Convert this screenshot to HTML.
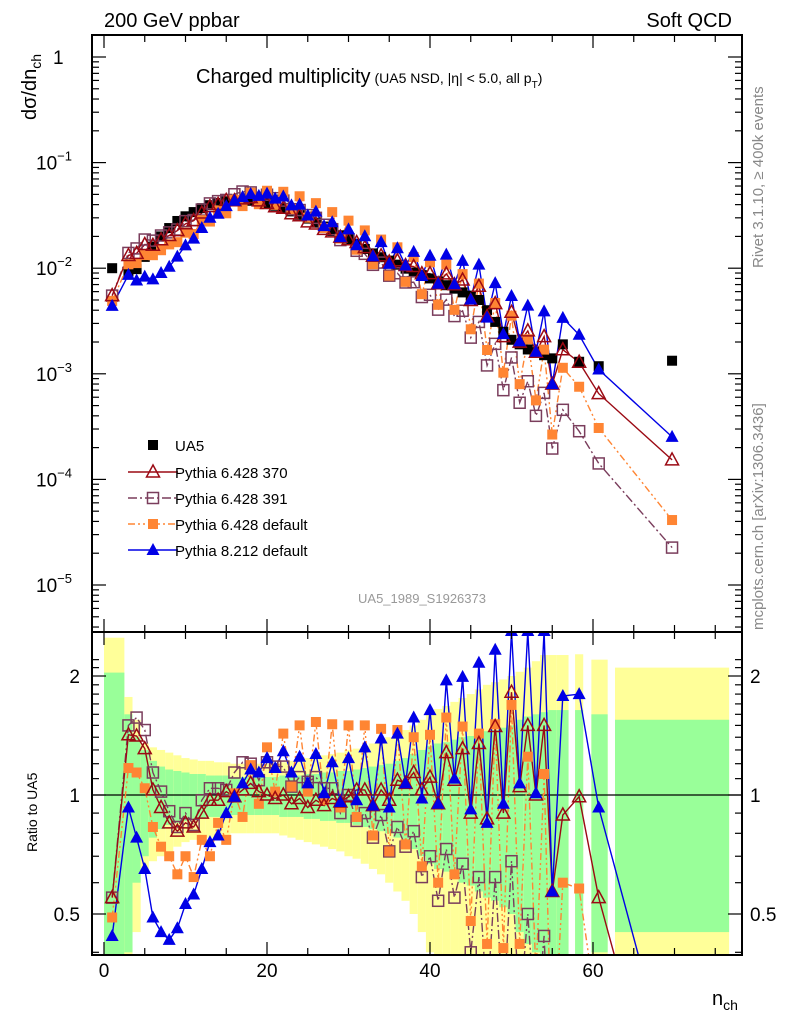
<!DOCTYPE html>
<html><head><meta charset="utf-8"><style>
html,body{margin:0;padding:0;background:#fff;width:786px;height:1024px;overflow:hidden}
svg{display:block;font-family:"Liberation Sans",sans-serif}
</style></head><body>
<svg id="chart" width="786" height="1024" viewBox="0 0 786 1024" xmlns="http://www.w3.org/2000/svg">
<defs>
<clipPath id="clipMain"><rect x="92" y="35" width="650" height="597"/></clipPath>
<clipPath id="clipRatio"><rect x="92" y="632" width="650" height="323"/></clipPath>
</defs>
<g id="bands" clip-path="url(#clipRatio)"></g>
<line x1="92" x2="742" y1="795" y2="795" stroke="#000" stroke-width="1.2"/>
<g id="mainMarks" clip-path="url(#clipMain)"></g>
<g id="ratioMarks" clip-path="url(#clipRatio)"></g>
<rect x="92" y="35" width="650" height="597" fill="none" stroke="#000" stroke-width="2"/>
<rect x="92" y="632" width="650" height="323" fill="none" stroke="#000" stroke-width="2"/>
<g id="ticks" stroke="#000" stroke-width="1.2"></g>
<g id="labels" font-size="19" fill="#000"></g>

<text x="104" y="27" font-size="20">200 GeV ppbar</text>
<text x="732" y="27" font-size="20" text-anchor="end">Soft QCD</text>
<text x="196" y="83" font-size="20">Charged multiplicity<tspan font-size="14" dx="4">(UA5 NSD, |η| &lt; 5.0, all p</tspan><tspan font-size="10" dy="5">T</tspan><tspan font-size="14" dy="-5">)</tspan></text>
<text transform="translate(36,120) rotate(-90)" font-size="20">dσ/dn<tspan font-size="14" dy="5">ch</tspan></text>
<text transform="translate(37,852) rotate(-90)" font-size="14">Ratio to UA5</text>
<text x="712" y="1005" font-size="20">n<tspan font-size="14" dy="5">ch</tspan></text>
<text transform="translate(763,268) rotate(-90)" font-size="15" fill="#888">Rivet 3.1.10, ≥ 400k events</text>
<text transform="translate(763,630) rotate(-90)" font-size="15" fill="#888">mcplots.cern.ch [arXiv:1306.3436]</text>
<text x="422" y="603" font-size="13" fill="#999" text-anchor="middle">UA5_1989_S1926373</text>

<g id="legend" font-size="15"></g>
</svg>
<script>
const ns = [1,3,4,5,6,7,8,9,10,11,12,13,14,15,16,17,18,19,20,21,22,23,24,25,26,27,28,29,30,31,32,33,34,35,36,37,38,39,40,41,42,43,44,45,46,47,48,49,50,51,52,53,54,55,56.3,58.3,60.7,69.7];
const ua5 = [0.0100,0.0093,0.0098,0.0128,0.0160,0.0200,0.0240,0.0280,0.0310,0.0340,0.0370,0.0395,0.0415,0.0430,0.0440,0.0440,0.0435,0.0425,0.0410,0.0390,0.0370,0.0345,0.0320,0.0295,0.0270,0.0248,0.0225,0.0205,0.0188,0.0170,0.0152,0.0138,0.0127,0.0118,0.0108,0.0099,0.0091,0.0086,0.0080,0.0075,0.0069,0.0064,0.0059,0.0055,0.0050,0.0040,0.0031,0.0025,0.0021,0.0019,0.0017,0.0016,0.0015,0.0014,0.0019,0.0013,0.00118,0.00133];
const ratio370 = [0.55,1.42,1.41,1.31,1.03,0.93,0.85,0.81,0.85,0.83,0.9,0.97,0.97,1.02,0.99,1.03,1.07,1.02,1.0,0.98,1.0,0.95,0.98,0.93,0.97,0.94,0.98,0.96,0.99,1.03,1.03,0.94,1.03,0.97,1.09,1.07,1.14,1.03,1.11,0.95,1.28,1.09,1.31,0.9,1.35,0.87,1.49,0.9,1.82,1.05,1.5,1.0,1.5,0.57,0.89,0.99,0.55,0.115];
const ratio391 = [0.55,1.5,1.57,1.46,1.14,1.02,0.91,0.83,0.9,0.84,0.97,1.04,1.04,1.03,1.14,1.21,1.2,1.09,1.21,1.18,1.18,1.05,1.11,1.08,1.11,1.04,1.04,0.9,1.0,0.86,0.9,0.78,0.89,0.72,0.83,0.74,0.81,0.62,0.70,0.54,0.73,0.55,0.67,0.4,0.62,0.3,0.62,0.28,0.68,0.28,0.5,0.25,0.44,0.14,0.24,0.22,0.12,0.017];
const ratioDef6 = [0.49,1.17,1.14,1.04,0.83,0.74,0.70,0.63,0.7,0.62,0.77,0.7,0.85,0.77,1.01,0.88,1.19,0.95,1.32,1.02,1.43,1.05,1.5,1.02,1.53,0.97,1.51,0.93,1.5,0.88,1.5,0.79,1.47,0.72,1.46,0.75,1.4,0.66,1.42,0.6,1.57,0.63,1.49,0.48,1.43,0.42,1.51,0.41,1.69,0.42,1.25,0.35,1.13,0.19,0.6,0.58,0.26,0.031];
const ratio8 = [0.44,0.93,0.78,0.65,0.49,0.45,0.43,0.46,0.53,0.56,0.65,0.76,0.79,0.9,0.99,1.07,1.16,1.14,1.24,1.17,1.29,1.14,1.25,1.07,1.27,1.01,1.21,0.96,1.24,0.97,1.32,0.94,1.39,0.93,1.43,1.07,1.57,0.98,1.64,0.95,1.95,1.1,1.99,0.92,2.16,0.85,2.33,0.95,2.6,1.07,2.6,1.01,2.6,0.57,1.78,1.8,0.93,0.19];
const statErr = [1.04,0.6,0.4,0.3,0.22,0.18,0.16,0.15,0.14,0.13,0.13,0.12,0.12,0.12,0.11,0.11,0.11,0.11,0.11,0.11,0.12,0.12,0.12,0.13,0.13,0.14,0.14,0.15,0.15,0.16,0.17,0.18,0.19,0.2,0.22,0.24,0.27,0.3,0.33,0.35,0.36,0.38,0.4,0.41,0.43,0.45,0.46,0.48,0.5,0.55,0.58,0.6,0.62,0.64,0.64,0.64,0.6,0.55];
const totErr = [1.5,0.77,0.55,0.35,0.32,0.3,0.28,0.26,0.24,0.23,0.22,0.22,0.21,0.21,0.2,0.2,0.2,0.2,0.2,0.2,0.21,0.22,0.23,0.24,0.25,0.26,0.27,0.28,0.3,0.31,0.33,0.35,0.37,0.4,0.43,0.46,0.5,0.55,0.6,0.65,0.68,0.72,0.76,0.8,0.85,0.9,0.93,0.96,1.0,1.05,1.1,1.18,1.26,1.26,1.26,1.27,1.2,1.1];
const specialBinLo = {1:0, 55:54.5, 56.3:55.5, 58.3:57.8, 60.7:59.8, 69.7:62.7};
const specialBinHi = {1:2.5, 55:55.5, 56.3:57.0, 58.3:58.8, 60.7:61.8, 69.7:76.7};
const xTickLabels = ["0","20","40","60"];
const mainDecades = [0,-1,-2,-3,-4,-5];
const ratioTickLabels = ["0.5","1","2"];

const SVGNS = "http://www.w3.org/2000/svg";
const X = n => 104 + 8.15*n;
const Ym = v => 57 - 105.6*Math.log10(v);
const Yr = r => 795 - 395.3*Math.log10(Math.max(r,1e-3));
const clampR = y => Math.max(632, Math.min(955, y));
function mk(tag, attrs, parent){ const e=document.createElementNS(SVGNS,tag); for(const k in attrs) e.setAttribute(k,attrs[k]); parent.appendChild(e); return e; }

// clip a polyline to y range; returns path d
function clipPath(pts, ylo, yhi){
  let d=''; let pen=false;
  for(let i=0;i<pts.length-1;i++){
    let [x0,y0]=pts[i], [x1,y1]=pts[i+1];
    let t0=0,t1=1; const dy=y1-y0;
    if(dy===0){ if(y0<ylo||y0>yhi){pen=false;continue;} }
    else{
      let ta=(ylo-y0)/dy, tb=(yhi-y0)/dy;
      if(ta>tb){const t=ta;ta=tb;tb=t;}
      t0=Math.max(0,ta); t1=Math.min(1,tb);
      if(t0>t1){pen=false;continue;}
    }
    const ax=x0+(x1-x0)*t0, ay=y0+dy*t0, bx=x0+(x1-x0)*t1, by=y0+dy*t1;
    if(!pen || t0>0){ d+=`M${ax.toFixed(1)},${ay.toFixed(1)}`; }
    d+=`L${bx.toFixed(1)},${by.toFixed(1)}`;
    pen = t1>=1;
  }
  return d;
}

const gB = document.getElementById('bands');
ns.forEach((n,i)=>{
  const lo = (n in specialBinLo)? specialBinLo[n] : n-0.5;
  const hi = (n in specialBinHi)? specialBinHi[n] : n+0.5;
  const x0=X(lo), x1=X(hi);
  const yTop = clampR(Yr(1+totErr[i])), yBot = clampR(Yr(Math.max(1-totErr[i],0.01)));
  const y = mk('rect',{x:x0,y:yTop,width:x1-x0,height:yBot-yTop,fill:'#ffff99'},gB);
  
  
  const gTop = clampR(Yr(1+statErr[i])), gBot = clampR(Yr(Math.max(1-statErr[i],0.01)));
  const g = mk('rect',{x:x0,y:gTop,width:x1-x0,height:gBot-gTop,fill:'#99ff99'},gB);
  
  
});

function marker(parent, type, x, y, color, name){
  let e;
  if(type==='sqFill'){ e=mk('rect',{x:x-5,y:y-5,width:10,height:10,fill:color},parent); }
  else if(type==='sqOpen'){ e=mk('rect',{x:x-5.5,y:y-5.5,width:11,height:11,fill:'none',stroke:color,'stroke-width':1.5},parent); }
  else if(type==='triFill'){ e=mk('polygon',{points:`${x},${y-7} ${x-6.5},${y+5} ${x+6.5},${y+5}`,fill:color},parent); }
  else { e=mk('polygon',{points:`${x},${y-7} ${x-6.5},${y+5} ${x+6.5},${y+5}`,fill:'none',stroke:color,'stroke-width':1.5},parent); }
  
  
}

const series = [
  {r:ratio391, color:'#7a3d5c', dash:'9,3,2,3', m:'sqOpen', name:'pythia-6428-391'},
  {r:ratioDef6, color:'#ff8533', dash:'7,3,2,3,2,3', m:'sqFill', name:'pythia-6428-default'},
  {r:ratio370, color:'#9b0a14', dash:'', m:'triOpen', name:'pythia-6428-370'},
  {r:ratio8, color:'#0000e6', dash:'', m:'triFill', name:'pythia-8212-default'}
];
const gM = document.getElementById('mainMarks');
const gR = document.getElementById('ratioMarks');
series.forEach(s=>{
  const ptsM = ns.map((n,i)=>[X(n),Ym(ua5[i]*s.r[i])]);
  const lm = mk('path',{d:clipPath(ptsM,30,637),fill:'none',stroke:s.color,'stroke-width':1.4,'stroke-dasharray':s.dash},gM);
  
  
  const ptsR = ns.map((n,i)=>[X(n),Yr(s.r[i])]);
  const lr = mk('path',{d:clipPath(ptsR,627,960),fill:'none',stroke:s.color,'stroke-width':1.4,'stroke-dasharray':s.dash},gR);
  
  
});
ns.forEach((n,i)=>{ marker(gM,'sqFill',X(n),Ym(ua5[i]),'#000','ua5-point'); });
series.forEach(s=>{
  ns.forEach((n,i)=>{
    const ym=Ym(ua5[i]*s.r[i]);
    if(ym>28 && ym<640) marker(gM,s.m,X(n),ym,s.color,s.name+'-point');
    const yr=Yr(s.r[i]);
    if(yr>625 && yr<962) marker(gR,s.m,X(n),yr,s.color,s.name+'-ratio-point');
  });
});

const gT = document.getElementById('ticks');
function tk(x1,y1,x2,y2,name){ const l=mk('line',{x1,y1,x2,y2},gT);   }
for(let n=0;n<=75;n+=5){
  const big = n%20===0; const L = big?13:7; const x=X(n);
  tk(x,35,x,35+L,'x-tick'); tk(x,632,x,632-L,'x-tick');
  tk(x,632,x,632+L,'x-tick'); tk(x,955,x,955-L,'x-tick');
}
for(let d=0; d>=-5; d--){
  const y=Ym(Math.pow(10,d));
  tk(92,y,106,y,'y-major-tick'); tk(742,y,728,y,'y-major-tick');
  for(let m=2;m<=9;m++){
    const ym=Ym(m*Math.pow(10,d-1));
    if(ym>35 && ym<632){ tk(92,ym,99,ym,'y-minor-tick'); tk(742,ym,735,ym,'y-minor-tick'); }
  }
}
[0.5,1,2].forEach(r=>{ const y=Yr(r); tk(92,y,106,y,'ratio-major-tick'); tk(742,y,728,y,'ratio-major-tick'); });
[0.4,0.6,0.7,0.8,0.9,1.1,1.2,1.3,1.4,1.5,1.6,1.7,1.8,1.9,2.1,2.2].forEach(r=>{ const y=Yr(r); tk(92,y,99,y,'ratio-minor-tick'); tk(742,y,735,y,'ratio-minor-tick'); });

const gL = document.getElementById('labels');
xTickLabels.forEach(t=>{
  const e=mk('text',{x:X(+t),y:977,'text-anchor':'middle'},gL); e.textContent=t;
  
  
});
mainDecades.forEach(d=>{
  const y=Ym(Math.pow(10,d))+7;
  const e=mk('text',{x:d===0?53:36,y:y},gL);
  
  
  if(d===0){ e.textContent='1'; }
  else { e.textContent='10'; const s=mk('tspan',{'font-size':13,dy:-9},e); s.textContent='−'+(-d); }
});
ratioTickLabels.forEach(t=>{
  const y=Yr(+t)+7;
  const a=mk('text',{x:80,y:y,'text-anchor':'end'},gL); a.textContent=t;
  
  
  const b=mk('text',{x:750,y:y},gL); b.textContent=t;
  
  
});

const gLeg = document.getElementById('legend');
const legNames = ['UA5','Pythia 6.428 370','Pythia 6.428 391','Pythia 6.428 default','Pythia 8.212 default'];
const legY = [445,472,498,524,550];
const legStyle = [null, series[2], series[0], series[1], series[3]];
legNames.forEach((nm,i)=>{
  const y=legY[i];
  const st=legStyle[i];
  if(st){
    const l=mk('line',{x1:128,x2:178,y1:y,y2:y,stroke:st.color,'stroke-width':1.4,'stroke-dasharray':st.dash},gLeg);
    
    
    marker(gLeg,st.m,153,y,st.color,'legend-marker');
  } else {
    marker(gLeg,'sqFill',153,y,'#000','legend-marker');
  }
  const t=mk('text',{x:175,y:y+6},gLeg); t.textContent=nm;
  
  
});
</script>
</body></html>
